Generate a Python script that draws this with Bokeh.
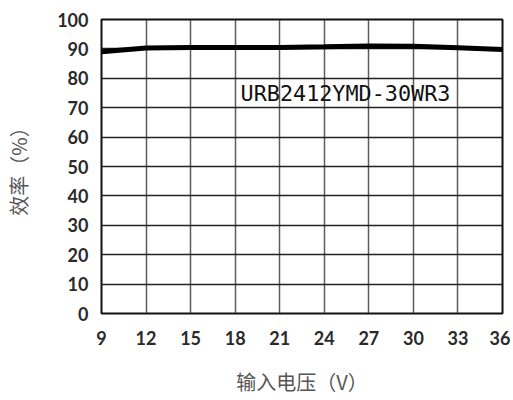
from bokeh.plotting import figure
from bokeh.embed import file_html
from bokeh.resources import INLINE
from bokeh.models import Range1d, FixedTicker, Label

voltage = [9, 12, 15, 18, 21, 24, 27, 30, 33, 36]
efficiency = [89.0, 90.3, 90.5, 90.5, 90.5, 90.7, 91.0, 90.9, 90.4, 89.8]
x_ticks = [9, 12, 15, 18, 21, 24, 27, 30, 33, 36]
y_ticks = [0, 10, 20, 30, 40, 50, 60, 70, 80, 90, 100]
model_name = "URB2412YMD-30WR3"
x_title = "输入电压（V）"
y_title = "效率（%）"

p = figure(width=510, height=398, output_backend="svg", toolbar_location=None,
           x_range=Range1d(9, 36), y_range=Range1d(0, 100),
           min_border_left=101, min_border_right=8, min_border_top=19, min_border_bottom=80)
p.background_fill_color = "white"
p.border_fill_color = "white"
p.outline_line_color = "#111111"
p.outline_line_width = 2

for ax in (p.xaxis, p.yaxis):
    ax.axis_line_color = None
    ax.major_tick_line_color = None
    ax.minor_tick_line_color = None
    ax.major_label_text_font = "Lato"
    ax.major_label_text_font_style = "bold"
    ax.major_label_text_font_size = "18px"
    ax.major_label_text_color = "#2a2a2a"
    ax.axis_label_text_font = "Noto Sans CJK SC"
    ax.axis_label_text_font_style = "normal"
    ax.axis_label_text_font_size = "20px"
    ax.axis_label_text_color = "#555555"
    ax.major_tick_out = 0
    ax.major_tick_in = 0

p.xaxis.ticker = FixedTicker(ticks=x_ticks)
p.yaxis.ticker = FixedTicker(ticks=y_ticks)
p.xaxis.major_label_standoff = 17
p.yaxis.major_label_standoff = 13
p.xaxis.axis_label = x_title
p.yaxis.axis_label = y_title
p.xaxis.axis_label_standoff = 19
p.yaxis.axis_label_standoff = 21

p.xgrid.grid_line_color = "#333333"
p.ygrid.grid_line_color = "#222222"
p.xgrid.grid_line_width = 1.5
p.ygrid.grid_line_width = 1.5
p.xgrid.grid_line_alpha = 0.8
p.ygrid.grid_line_alpha = 1.0

p.line(voltage, efficiency, line_color="black", line_width=5)

p.add_layout(Label(x=18.36, y=75, text=model_name, text_font="DejaVu Sans Mono",
                   text_font_size="21.8px", text_color="#111111", text_baseline="middle",
                   text_align="left"))

open("out.html", "w").write(file_html(p, INLINE))
